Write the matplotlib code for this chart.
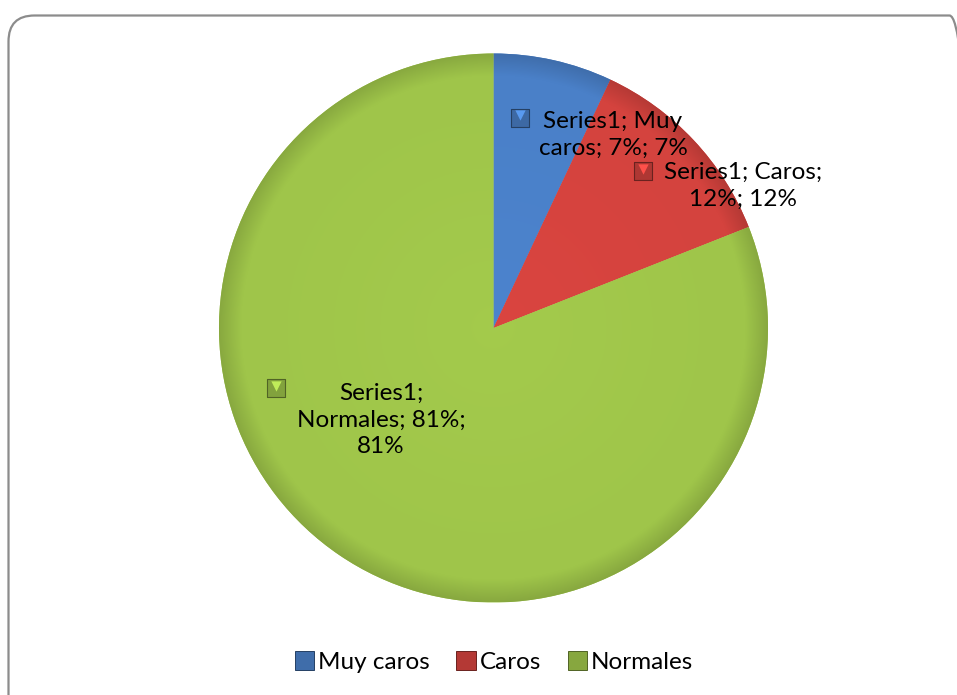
import numpy as np
import matplotlib
matplotlib.use("Agg")
import matplotlib.pyplot as plt
from matplotlib.patches import FancyBboxPatch, Patch
from matplotlib.colors import to_rgb

# pie data
categories = ["Muy caros", "Caros", "Normales"]
values = [7, 12, 81]
series_name = "Series1"
colors = ["#4a80c8", "#d4433e", "#9fc54a"]

plt.rcParams['font.family'] = ['Lato', 'DejaVu Sans']

W, H = 957, 695
fig = plt.figure(figsize=(W / 100, H / 100), dpi=100)
ax = fig.add_axes([0, 0, 1, 1])

cx, cy, R = 493.5, H - 328, 274.5

wedges, _ = ax.pie(values, colors=colors, startangle=90, counterclock=False,
                   center=(cx, cy), radius=R)

# radial shading, darker towards the rim
n = 600
xs = np.linspace(cx - R, cx + R, n)
ys = np.linspace(cy - R, cy + R, n)
X, Y = np.meshgrid(xs, ys)
r = np.hypot(X - cx, Y - cy) / R
shade = np.where(r < 0.92, 1.0 + 0.03 * (0.92 - r), 1.0 - 1.8 * (r - 0.92))
shade = np.clip(shade, 0.84, 1.1)
for w, c in zip(wedges, colors):
    rgb = np.array(to_rgb(c))
    img = np.clip(shade[..., None] * rgb, 0, 1)
    im = ax.imshow(img, extent=(cx - R, cx + R, cy - R, cy + R), origin='lower',
                   zorder=2, interpolation='bilinear')
    im.set_clip_path(w)
    w.set_edgecolor('none')

ax.set_xlim(0, W)
ax.set_ylim(0, H)
ax.set_aspect('auto')
ax.axis('off')

# outer frame with rounded corners, in pixel coordinates
frame = FancyBboxPatch((8.5, -30), 967, H - 15 + 30 - 0.5,
                       boxstyle="round,pad=0,rounding_size=26",
                       fill=False, edgecolor='#8c8c8c', lw=1.6, zorder=5,
                       transform=None, clip_on=False)
fig.add_artist(frame)

# data labels: text centre, marker position
label_text = [
    "{}; Muy\ncaros; {}%; {}%".format(series_name, values[0], values[0]),
    "{}; Caros;\n{}%; {}%".format(series_name, values[1], values[1]),
    "{};\nNormales; {}%;\n{}%".format(series_name, values[2], values[2]),
]
label_xy = [(613, 135), (743, 186), (381, 420)]
marker_xy = [(519.5, 117.5), (643, 171), (276, 388)]

for txt, (tx, ty), (mx, my), c in zip(label_text, label_xy, marker_xy, colors):
    ax.text(tx, H - ty, txt, ha='center', va='center', fontsize=17.5,
            linespacing=1.35, color='black', zorder=6)
    rgb = np.array(to_rgb(c))
    # bevelled key: darker square with a light wedge on top
    ax.scatter([mx], [H - my], marker='s', s=150, color=rgb * 0.82,
               edgecolors=rgb * 0.5, linewidths=0.8, zorder=6)
    ax.scatter([mx], [H - my + 2.5], marker='v', s=55,
               color=np.clip(rgb * 1.2, 0, 1), linewidths=0, zorder=7)

handles = [Patch(facecolor=np.array(to_rgb(c)) * 0.85,
                 edgecolor=np.array(to_rgb(c)) * 0.5, lw=0.7) for c in colors]
fig.legend(handles, categories, loc='center', bbox_to_anchor=(0.516, (H - 662) / H),
           ncol=3, frameon=False, fontsize=17.5, handlelength=0.8, handleheight=0.8,
           handletextpad=0.15, columnspacing=1.1)

fig.savefig("out.png", dpi=100, facecolor='white')
